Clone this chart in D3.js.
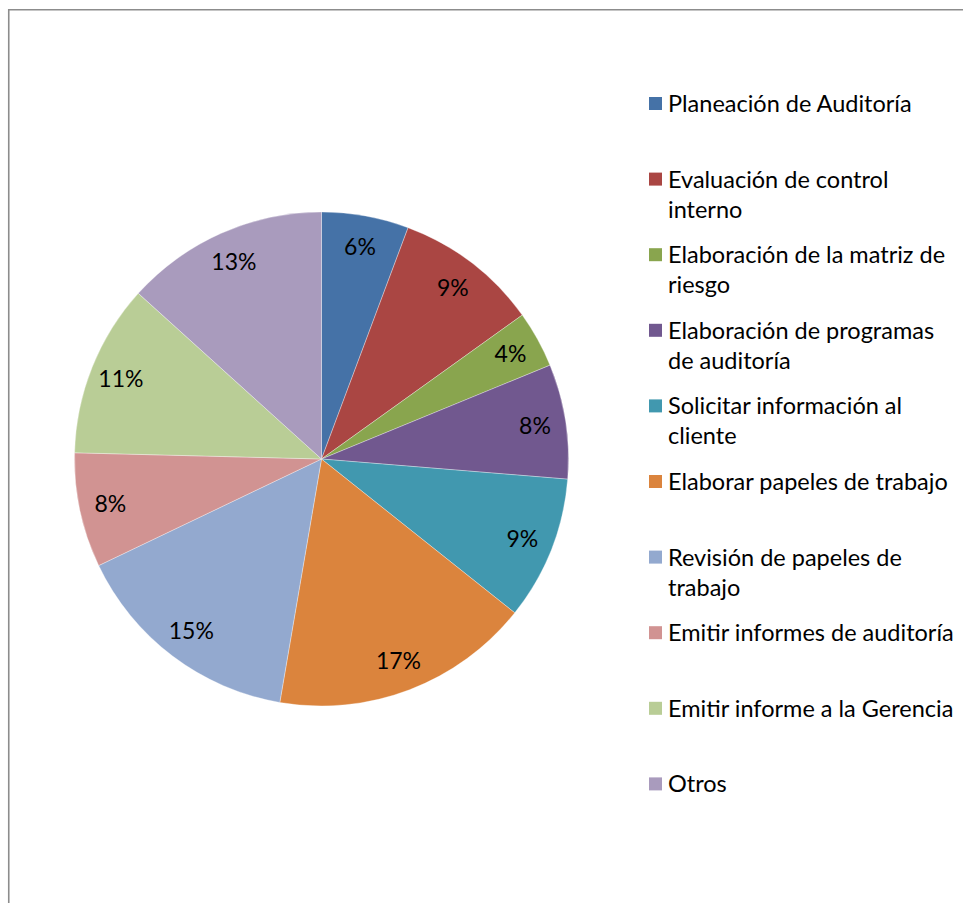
<!DOCTYPE html>
<html>
<head>
<meta charset="utf-8">
<script src="https://cdn.jsdelivr.net/npm/d3@7"></script>
<style>
  html, body { margin: 0; padding: 0; background: #fff; }
  svg { display: block; }
</style>
</head>
<body>
<svg id="chart" width="972" height="903"></svg>
<script>
// Distribución del tiempo por actividad de auditoría (porcentajes)
const categories = [
  "Planeación de Auditoría",
  "Evaluación de control interno",
  "Elaboración de la matriz de riesgo",
  "Elaboración de programas de auditoría",
  "Solicitar información al cliente",
  "Elaborar papeles de trabajo",
  "Revisión de papeles de trabajo",
  "Emitir informes de auditoría",
  "Emitir informe a la Gerencia",
  "Otros"
];
// Legend text broken into lines as laid out beside the pie
const legendLines = [
  ["Planeación de Auditoría"],
  ["Evaluación de control", "interno"],
  ["Elaboración de la matriz de", "riesgo"],
  ["Elaboración de programas", "de auditoría"],
  ["Solicitar información al", "cliente"],
  ["Elaborar papeles de trabajo"],
  ["Revisión de papeles de", "trabajo"],
  ["Emitir informes de auditoría"],
  ["Emitir informe a la Gerencia"],
  ["Otros"]
];
const values = [5.7, 9.4, 3.7, 7.5, 9.4, 17.0, 15.2, 7.5, 11.3, 13.3];
const colors = ["#4572A7", "#AA4643", "#89A54E", "#71588F", "#4198AF",
                "#DB843D", "#93A9CF", "#D19392", "#B9CD96", "#A99BBD"];

const svg = d3.select("#chart");
const font = "Lato, 'Open Sans', sans-serif";

// Chart area frame (top and left edges)
svg.append("path")
  .attr("d", "M8.75,903 V9.75 H963")
  .attr("fill", "none")
  .attr("stroke", "#8c8c8c")
  .attr("stroke-width", 1.6);

const cx = 321.5, cy = 459, R = 247, labelR = 216;
const total = d3.sum(values);

const pie = d3.pie().sort(null).value(d => d)(values);
const arc = d3.arc().innerRadius(0).outerRadius(R);
const labelArc = d3.arc().innerRadius(labelR).outerRadius(labelR);

const g = svg.append("g").attr("transform", `translate(${cx},${cy})`);

g.selectAll("path.slice")
  .data(pie)
  .join("path")
  .attr("class", "slice")
  .attr("d", arc)
  .attr("fill", (d, i) => colors[i])
  .attr("stroke", "rgba(255,255,255,0.55)")
  .attr("stroke-width", 0.6);

const pct = v => Math.round(v / total * 100) + "%";

g.selectAll("text.pct")
  .data(pie)
  .join("text")
  .attr("class", "pct")
  .attr("transform", d => `translate(${labelArc.centroid(d)})`)
  .attr("text-anchor", "middle")
  .attr("dy", "0.35em")
  .attr("font-family", font)
  .attr("font-size", 23)
  .attr("fill", "#000")
  .text(d => pct(d.value));

// Legend
const legendX = 649, legendY0 = 103.5, legendStep = 75.6, lineH = 30;
const lg = svg.append("g");
legendLines.forEach((lines, i) => {
  const y = legendY0 + i * legendStep;
  lg.append("rect")
    .attr("x", legendX).attr("y", y - 6.5)
    .attr("width", 13).attr("height", 13)
    .attr("fill", colors[i]);
  const t = lg.append("text")
    .attr("font-family", font)
    .attr("font-size", 23.5)
    .attr("fill", "#000");
  lines.forEach((ln, j) => {
    t.append("tspan")
      .attr("x", legendX + 19)
      .attr("y", y + j * lineH)
      .attr("dy", "0.36em")
      .text(ln);
  });
});
</script>
</body>
</html>
